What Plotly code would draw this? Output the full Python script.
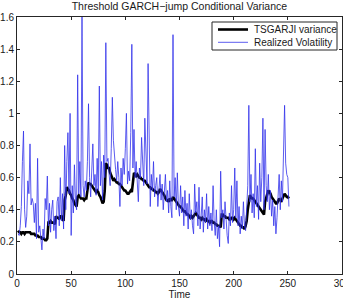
import plotly.graph_objects as go

time = list(range(1, 252))

tsgarji_var = [
    0.27, 0.26, 0.26, 0.25, 0.26, 0.26, 0.25, 0.26, 0.26, 0.26,
    0.26, 0.26, 0.25, 0.25, 0.25, 0.25, 0.24, 0.24, 0.24, 0.23,
    0.23, 0.23, 0.22, 0.22, 0.22, 0.21, 0.21, 0.22, 0.32, 0.32,
    0.33, 0.32, 0.32, 0.32, 0.31, 0.36, 0.35, 0.35, 0.34, 0.36,
    0.36, 0.35, 0.33, 0.46, 0.49, 0.54, 0.53, 0.52, 0.50, 0.49,
    0.47, 0.46, 0.44, 0.43, 0.42, 0.48, 0.49, 0.48, 0.47, 0.47,
    0.47, 0.46, 0.47, 0.47, 0.52, 0.57, 0.56, 0.56, 0.55, 0.54,
    0.53, 0.52, 0.51, 0.52, 0.51, 0.49, 0.48, 0.46, 0.44, 0.45,
    0.52, 0.69, 0.68, 0.66, 0.66, 0.63, 0.61, 0.59, 0.58, 0.59,
    0.58, 0.57, 0.57, 0.56, 0.56, 0.55, 0.54, 0.53, 0.52, 0.52,
    0.51, 0.50, 0.50, 0.51, 0.52, 0.51, 0.58, 0.63, 0.62, 0.61,
    0.62, 0.61, 0.60, 0.60, 0.59, 0.59, 0.58, 0.58, 0.57, 0.56,
    0.55, 0.54, 0.54, 0.53, 0.53, 0.52, 0.52, 0.51, 0.51, 0.50,
    0.51, 0.53, 0.52, 0.51, 0.50, 0.49, 0.47, 0.46, 0.46, 0.45,
    0.47, 0.46, 0.46, 0.48, 0.47, 0.46, 0.45, 0.44, 0.43, 0.42,
    0.42, 0.41, 0.40, 0.39, 0.39, 0.38, 0.37, 0.37, 0.36, 0.35,
    0.36, 0.35, 0.36, 0.37, 0.38, 0.37, 0.36, 0.35, 0.35, 0.34,
    0.35, 0.34, 0.34, 0.33, 0.34, 0.33, 0.33, 0.32, 0.33, 0.33,
    0.32, 0.32, 0.31, 0.31, 0.30, 0.30, 0.30, 0.29, 0.37, 0.37,
    0.36, 0.36, 0.35, 0.35, 0.35, 0.34, 0.34, 0.35, 0.35, 0.34,
    0.35, 0.34, 0.33, 0.32, 0.31, 0.30, 0.30, 0.29, 0.29, 0.28,
    0.30, 0.33, 0.40, 0.46, 0.49, 0.48, 0.47, 0.47, 0.46, 0.45,
    0.44, 0.43, 0.42, 0.41, 0.40, 0.39, 0.38, 0.37, 0.45, 0.47,
    0.50, 0.52, 0.51, 0.50, 0.48, 0.47, 0.46, 0.45, 0.44, 0.44,
    0.46, 0.47, 0.46, 0.45, 0.47, 0.49, 0.50, 0.49, 0.48, 0.48,
    0.47,
]

realized_vol = [
    0.25, 0.24, 0.30, 0.42, 0.70, 0.89, 0.40, 0.29, 0.36, 0.58,
    0.50, 0.81, 0.43, 0.47, 0.44, 0.32, 0.44, 0.22, 0.72, 0.26,
    0.30, 0.21, 0.15, 0.28, 0.22, 0.47, 0.40, 0.61, 0.30, 0.44,
    0.26, 0.40, 0.46, 0.27, 0.36, 0.22, 0.45, 0.48, 0.30, 0.60,
    0.33, 0.50, 0.28, 0.80, 0.40, 0.70, 0.88, 0.50, 1.00, 0.24,
    0.55, 0.38, 0.68, 0.45, 0.40, 1.24, 0.50, 0.70, 0.48, 1.60,
    0.55, 0.48, 0.58, 0.52, 0.70, 1.06, 0.60, 0.48, 0.62, 0.81,
    0.55, 0.62, 0.49, 0.72, 0.52, 1.17, 0.55, 0.70, 0.46, 0.74,
    0.60, 1.44, 0.70, 0.72, 0.62, 0.55, 0.78, 1.10, 0.83, 0.72,
    0.65, 0.58, 0.70, 0.60, 0.42, 0.66, 0.55, 0.72, 0.62, 0.78,
    1.00, 0.56, 0.64, 0.58, 0.88, 1.43, 0.66, 0.90, 0.60, 0.70,
    0.56, 0.45, 0.66, 0.60, 0.85, 0.62, 0.55, 0.97, 0.72, 0.56,
    1.31, 0.68, 0.42, 0.62, 0.52, 0.70, 0.48, 0.55, 0.60, 0.42,
    0.52, 0.62, 0.46, 0.56, 0.40, 0.50, 0.62, 0.45, 0.52, 0.38,
    0.58, 0.42, 0.35, 1.49, 0.48, 0.60, 0.40, 0.63, 0.42, 0.36,
    0.55, 0.38, 0.48, 0.30, 0.52, 0.36, 0.44, 0.28, 0.50, 0.34,
    0.40, 0.30, 0.25, 0.56, 0.38, 0.45, 0.30, 0.54, 0.28, 0.36,
    0.48, 0.26, 0.40, 0.32, 0.50, 0.28, 0.42, 0.30, 0.38, 0.27,
    0.55, 0.32, 0.24, 0.40, 0.22, 0.30, 0.17, 0.64, 0.35, 0.40,
    0.28, 0.45, 0.30, 0.24, 0.19, 0.38, 0.30, 0.55, 0.32, 0.40,
    0.66, 0.35, 0.58, 0.30, 0.42, 0.25, 0.36, 0.28, 0.45, 0.30,
    0.27, 0.40, 0.55, 1.05, 0.45, 0.62, 0.38, 0.50, 0.35, 0.78,
    0.42, 0.55, 0.34, 0.69, 0.45, 0.60, 0.97, 0.40, 0.90, 0.55,
    0.45, 0.62, 0.40, 0.52, 0.36, 0.46, 0.30, 0.42, 0.25, 0.35,
    0.45, 0.62, 0.40, 0.58, 0.45, 0.70, 1.05, 0.69, 0.62, 0.60,
    0.42,
]

series_names = ["TSGARJI variance", "Realized Volatility"]
x_ticks = [0, 50, 100, 150, 200, 250, 300]
y_ticks = [0, 0.2, 0.4, 0.6, 0.8, 1.0, 1.2, 1.4, 1.6]

FONT = "Liberation Sans, Arial, Helvetica, sans-serif"
TXT = "#1a1a1a"
styles = [dict(color="black", width=2.6), dict(color="rgb(50,50,235)", width=0.8)]

fig = go.Figure()
fig.add_trace(go.Scatter(x=time, y=tsgarji_var, mode="lines",
                         name=series_names[0], line=styles[0], showlegend=False))
fig.add_trace(go.Scatter(x=time, y=realized_vol, mode="lines",
                         name=series_names[1], line=styles[1], showlegend=False))

# Compact MATLAB-style legend box (top-right inside the axes)
W, H = 343, 302
ML, MR, MT, MB = 17, 1, 17, 28
PW, PH = W - ML - MR, H - MT - MB


def px(xp):
    return (xp - ML) / PW


def py(yp):
    return 1 - (yp - MT) / PH


shapes = [dict(type="rect", xref="paper", yref="paper",
               x0=px(212), x1=px(337), y0=py(50), y1=py(22),
               line=dict(color="#262626", width=1), fillcolor="white", layer="above")]
annotations = []
row_y = [29.5, 42.3]
for name, st, ry in zip(series_names, styles, row_y):
    shapes.append(dict(type="line", xref="paper", yref="paper",
                       x0=px(218), x1=px(248), y0=py(ry), y1=py(ry),
                       line=dict(color=st["color"], width=st["width"]), layer="above"))
    annotations.append(dict(text=name, xref="paper", yref="paper",
                            x=px(252), y=py(ry), xanchor="left", yanchor="middle",
                            showarrow=False,
                            font=dict(family=FONT, size=10, color=TXT)))

axis_common = dict(
    showline=True, linecolor="#262626", linewidth=1, mirror="allticks",
    ticks="inside", ticklen=3, tickcolor="#262626", tickwidth=1,
    showgrid=False, zeroline=False, ticklabeloverflow="allow",
    automargin=False,
    tickfont=dict(family=FONT, size=10, color=TXT),
)

fig.update_layout(
    width=W, height=H,
    margin=dict(l=ML, r=MR, t=MT, b=MB, autoexpand=False),
    paper_bgcolor="white", plot_bgcolor="white",
    font=dict(family=FONT, size=10, color=TXT),
    title=dict(
        text="Threshold GARCH\u2212jump Conditional Variance",
        x=0.523, xanchor="center", y=0.979, yanchor="middle",
        yref="container", font=dict(family=FONT, size=10.5, color=TXT),
    ),
    xaxis=dict(range=[0, 300], tickvals=x_ticks,
               title=dict(text="Time", standoff=0,
                          font=dict(family=FONT, size=10, color=TXT)),
               **axis_common),
    yaxis=dict(range=[0, 1.6], tickvals=y_ticks, **axis_common),
    shapes=shapes,
    annotations=annotations,
    showlegend=False,
)

fig.write_html("out.html")
